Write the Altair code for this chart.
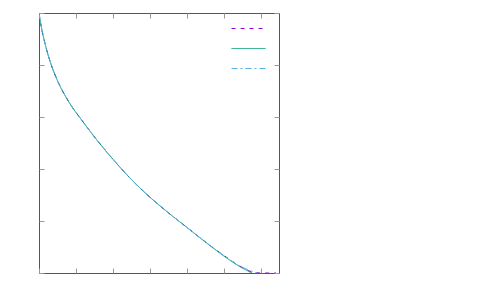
import altair as alt
import pandas as pd

# values (x in 0..6.5, y in 0..5)
x_b = [0.0, 0.05, 0.15, 0.3, 0.5, 0.8, 1.2, 1.6, 2.0, 2.5, 3.0, 3.5, 4.0, 4.5, 5.0, 5.4, 5.77]
y_b = [5.0, 4.78, 4.45, 4.07, 3.70, 3.30, 2.90, 2.53, 2.19, 1.80, 1.46, 1.16, 0.88, 0.60, 0.33, 0.14, 0.0]
x_a = [0.0, 0.05, 0.15, 0.3, 0.5, 0.8, 1.2, 1.6, 2.0, 2.5, 3.0, 3.5, 4.0, 4.5, 5.0, 5.4, 5.77, 6.0, 6.42]
y_a = [5.0, 4.78, 4.45, 4.07, 3.70, 3.30, 2.90, 2.53, 2.19, 1.80, 1.46, 1.16, 0.88, 0.60, 0.34, 0.15, 0.02, 0.0, 0.0]
x_c = [0.0, 0.05, 0.15, 0.3, 0.5, 0.8, 1.2, 1.6, 2.0, 2.5, 3.0, 3.5, 4.0, 4.5, 5.0, 5.4, 5.9]
y_c = [5.0, 4.78, 4.45, 4.07, 3.70, 3.30, 2.90, 2.53, 2.19, 1.80, 1.46, 1.16, 0.88, 0.60, 0.34, 0.15, 0.0]
series = ["a", "b", "c"]
colors = ["#9400d3", "#009e73", "#56b4e9"]
dashes = [[4, 5], [1, 0], [6, 3, 2, 3]]
x_ticks = [0, 1, 2, 3, 4, 5, 6]
y_ticks = [0, 1, 2, 3, 4, 5]

rows = []
for name, xs, ys in zip(series, [x_a, x_b, x_c], [y_a, y_b, y_c]):
    for i, (xv, yv) in enumerate(zip(xs, ys)):
        rows.append({"s": name, "x": xv, "y": yv, "o": i})
df = pd.DataFrame(rows)

xs = alt.Scale(domain=[0, 6.5], nice=False, zero=False)
ys = alt.Scale(domain=[0, 5], nice=False, zero=False)

def ax(orient, vals):
    return alt.Axis(orient=orient, values=vals, labels=False, title=None, domain=False,
                    grid=False, ticks=True, tickSize=5, offset=-5, tickColor="#999999",
                    tickWidth=1)

base = alt.Chart(df).mark_line(strokeWidth=1, clip=True, interpolate="monotone").encode(
    x=alt.X("x:Q", scale=xs, axis=ax("bottom", x_ticks)),
    y=alt.Y("y:Q", scale=ys, axis=ax("left", y_ticks)),
    color=alt.Color("s:N", scale=alt.Scale(domain=series, range=colors),
                    legend=alt.Legend(orient="none", legendX=192, legendY=-2, title=None,
                                      labelExpr="''", symbolType="stroke", symbolSize=1156,
                                      symbolStrokeWidth=1, rowPadding=0, labelFontSize=1)),
    strokeDash=alt.StrokeDash("s:N", scale=alt.Scale(domain=series, range=dashes), legend=None),
    order="o:Q",
)

top = alt.Chart(df).mark_line(strokeWidth=0, opacity=0).encode(
    x=alt.X("x:Q", scale=xs, axis=ax("top", x_ticks)),
    y=alt.Y("y:Q", scale=ys, axis=ax("right", y_ticks)),
)

chart = alt.layer(base, top).resolve_axis(x="independent", y="independent").properties(
    width=240, height=260,
    padding={"left": 31, "top": 5, "right": 5, "bottom": 5},
    autosize=alt.AutoSizeParams(type="none"),
).configure_view(stroke="#555555", strokeWidth=1)

chart.save("out.html", embed_options={"renderer": "svg", "actions": False})
